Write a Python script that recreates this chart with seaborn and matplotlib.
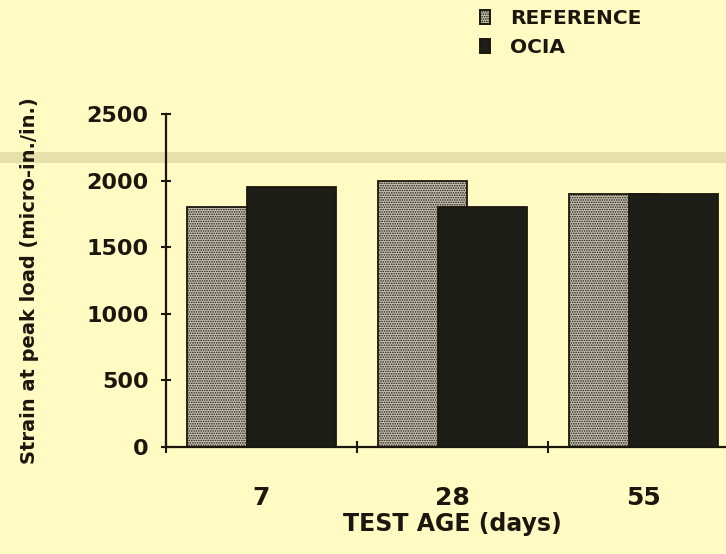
import numpy as np
import pandas as pd
import matplotlib
matplotlib.use("Agg")
import matplotlib.pyplot as plt
from matplotlib.patches import Patch, Rectangle
import seaborn as sns

# Strain at peak load by test age
ages = ["7", "28", "55"]
reference = [1800, 2000, 1900]
ocia = [1950, 1800, 1900]
series = ["REFERENCE", "OCIA"]
y_ticks = [0, 500, 1000, 1500, 2000, 2500]

paper = "#fffbc2"
ink = "#1c170e"
ref_face = "#c9c4b2"
ocia_face = "#1d1e17"

sns.set_style("ticks")
plt.rcParams["font.family"] = ["DejaVu Sans"]
plt.rcParams["font.weight"] = "bold"
plt.rcParams["hatch.linewidth"] = 0.8
plt.rcParams["text.color"] = ink

W, H = 726, 554
fig = plt.figure(figsize=(W / 100, H / 100), dpi=100, facecolor=paper)

# faint printed rule across the page behind the chart
fig.patches.append(Rectangle((0, 1 - 163 / H), 1, 11 / H,
                             transform=fig.transFigure, facecolor="#e6e0aa",
                             edgecolor="none", zorder=-5))

ax = fig.add_axes([166 / W, 1 - 447 / H, 573 / W, 333 / H])
ax.set_facecolor("none")

idx = np.arange(len(ages))
shift = 0.157
bar_w = 0.47
df = pd.DataFrame({
    "age": ages,
    "pos_ref": idx - shift,
    "pos_ocia": idx + shift,
    series[0]: reference,
    series[1]: ocia,
})

sns.barplot(data=df, x="pos_ref", y=series[0], native_scale=True, width=bar_w,
            color=ref_face, saturation=1, edgecolor=ink, linewidth=1.3,
            hatch=".......", errorbar=None, ax=ax, zorder=2)
sns.barplot(data=df, x="pos_ocia", y=series[1], native_scale=True, width=bar_w,
            color=ocia_face, saturation=1, edgecolor=ink, linewidth=1.3,
            errorbar=None, ax=ax, zorder=3)

# axes frame: left and bottom lines only
sns.despine(ax=ax, top=True, right=True)
for side in ("left", "bottom"):
    ax.spines[side].set_linewidth(1.6)
    ax.spines[side].set_color(ink)

ax.set_xlim(-0.5, 2.5)
ax.set_ylim(0, 2500)
ax.set_yticks(y_ticks)
ax.set_yticklabels([str(v) for v in y_ticks])
ax.set_xticks(idx)
ax.set_xticklabels(ages)
ax.set_xticks(np.arange(-0.5, len(ages) + 0.5, 1.0), minor=True)

ax.tick_params(axis="y", which="major", direction="inout", length=7, width=1.5,
               color=ink, labelsize=16, labelcolor=ink, pad=9)
ax.tick_params(axis="x", which="major", length=0, labelsize=18,
               labelcolor=ink, pad=28)
ax.tick_params(axis="x", which="minor", direction="inout", length=8, width=1.5,
               color=ink)
for lab in ax.get_xticklabels() + ax.get_yticklabels():
    lab.set_fontweight("bold")

ax.set_xlabel("TEST AGE (days)", fontsize=17, fontweight="bold", color=ink)
ax.set_ylabel("Strain at peak load (micro-in./in.)", fontsize=14,
              fontweight="bold", color=ink)
ax.xaxis.set_label_coords(0.5, -0.195)
ax.yaxis.set_label_coords(-0.222, 0.5)

handles = [
    Patch(facecolor=ref_face, edgecolor=ink, hatch=".......", linewidth=1.4,
          label=series[0]),
    Patch(facecolor=ocia_face, edgecolor=ink, linewidth=1.4, label=series[1]),
]
leg = fig.legend(handles=handles, loc="upper left",
                 bbox_to_anchor=(480 / W, 1 - 9 / H),
                 frameon=False, prop={"size": 14.5, "weight": "bold"},
                 handlelength=0.5, handleheight=0.65, handletextpad=1.0,
                 labelspacing=0.5, borderpad=0, borderaxespad=0)
for t in leg.get_texts():
    t.set_color(ink)

fig.savefig("out.png", dpi=100, facecolor=paper)
